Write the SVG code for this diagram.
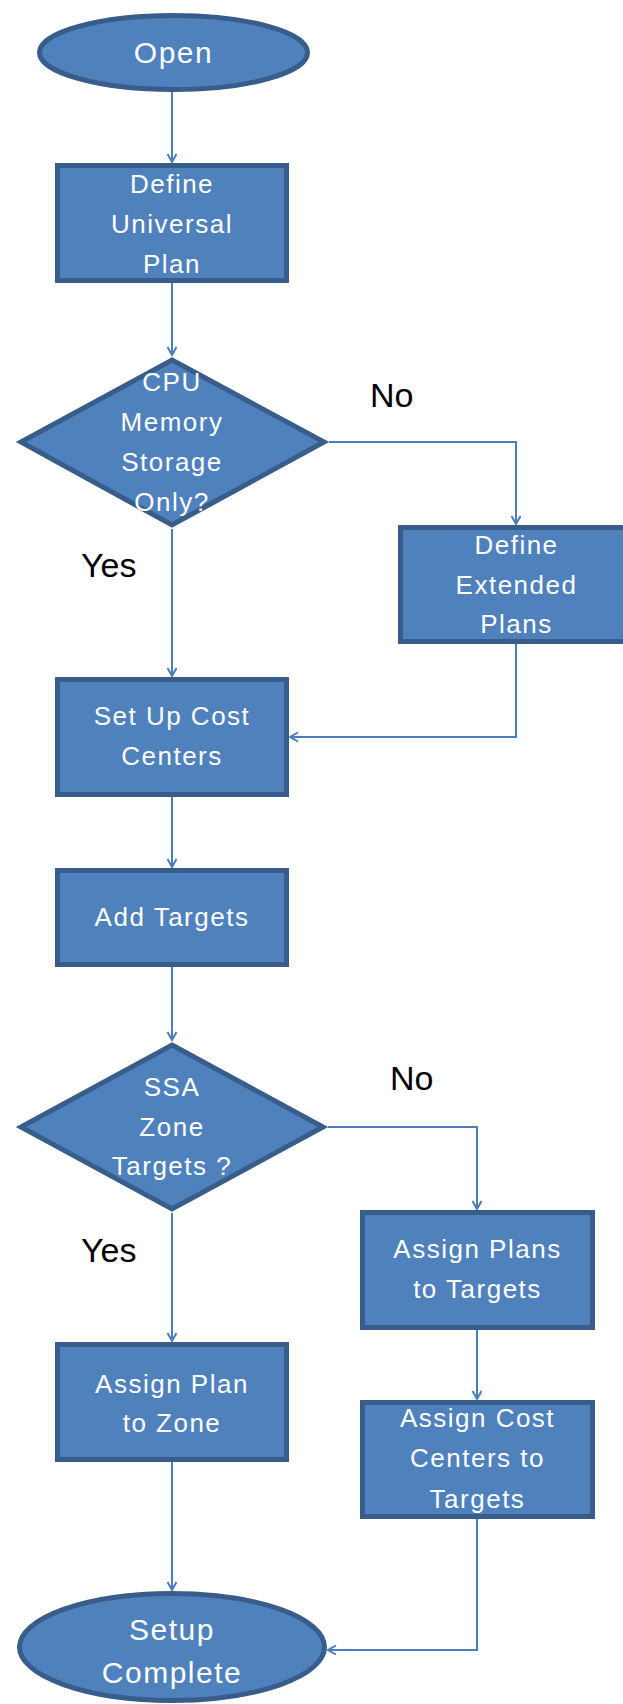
<svg xmlns="http://www.w3.org/2000/svg" width="623" height="1704" viewBox="0 0 623 1704">
<style>
.n{fill:#4f81bd;stroke:#385d8a;stroke-width:5}
.t{font-family:"Liberation Sans",Arial,sans-serif;font-size:26px;fill:#ffffff;text-anchor:middle;letter-spacing:1.5px}
.te{font-size:30px}
.lb{font-family:"Liberation Sans",Arial,sans-serif;font-size:34px;fill:#000000}
.c{fill:none;stroke:#4a7ebb;stroke-width:2;marker-end:url(#ah)}
</style>
<defs>
<marker id="ah" markerUnits="userSpaceOnUse" markerWidth="12" markerHeight="12" refX="9" refY="5" orient="auto">
<path d="M1,0.5 L9,5 L1,9.5" fill="none" stroke="#4a7ebb" stroke-width="2"/>
</marker>
</defs>
<rect width="623" height="1704" fill="#ffffff"/>
<g id="connectors">
<path class="c" d="M172,92 L172,162"/>
<path class="c" d="M172,283 L172,355"/>
<path class="c" d="M329,442 L516,442 L516,524"/>
<path class="c" d="M172,529 L172,676"/>
<path class="c" d="M516,644 L516,737 L290,737"/>
<path class="c" d="M172,797 L172,867"/>
<path class="c" d="M172,967 L172,1040"/>
<path class="c" d="M328,1127 L477,1127 L477,1209"/>
<path class="c" d="M172,1213 L172,1341"/>
<path class="c" d="M477,1330 L477,1399"/>
<path class="c" d="M172,1462 L172,1590"/>
<path class="c" d="M477,1519 L477,1650 L328,1650"/>
</g>
<g id="open">
<ellipse class="n" cx="173.5" cy="52.5" rx="134" ry="37"/>
<text class="t te" x="173.5" y="63">Open</text>
</g>
<g id="define-universal">
<rect class="n" x="57.5" y="165.5" width="229" height="115"/>
<text class="t" x="172" y="193">Define</text>
<text class="t" x="172" y="233">Universal</text>
<text class="t" x="172" y="273">Plan</text>
</g>
<g id="decision-cpu">
<polygon class="n" points="172,360 324,442 172,525 21,442"/>
<text class="t" x="172" y="391">CPU</text>
<text class="t" x="172" y="431">Memory</text>
<text class="t" x="172" y="471">Storage</text>
<text class="t" x="172" y="511">Only?</text>
</g>
<g id="define-extended">
<rect class="n" x="400.5" y="527.5" width="232" height="114"/>
<text class="t" x="516.5" y="554">Define</text>
<text class="t" x="516.5" y="594">Extended</text>
<text class="t" x="516.5" y="633">Plans</text>
</g>
<g id="cost-centers">
<rect class="n" x="57.5" y="679.5" width="229" height="115"/>
<text class="t" x="172" y="725">Set Up Cost</text>
<text class="t" x="172" y="765">Centers</text>
</g>
<g id="add-targets">
<rect class="n" x="57.5" y="870.5" width="229" height="94"/>
<text class="t" x="172" y="926">Add Targets</text>
</g>
<g id="decision-ssa">
<polygon class="n" points="172,1045 323,1127 172,1209 21,1127"/>
<text class="t" x="172" y="1096">SSA</text>
<text class="t" x="172" y="1136">Zone</text>
<text class="t" x="172" y="1175">Targets ?</text>
</g>
<g id="assign-plans">
<rect class="n" x="362.5" y="1212.5" width="230" height="115"/>
<text class="t" x="477.5" y="1258">Assign Plans</text>
<text class="t" x="477.5" y="1298">to Targets</text>
</g>
<g id="assign-plan-zone">
<rect class="n" x="57.5" y="1344.5" width="229" height="115"/>
<text class="t" x="172" y="1393">Assign Plan</text>
<text class="t" x="172" y="1432">to Zone</text>
</g>
<g id="assign-cost-centers">
<rect class="n" x="362.5" y="1402.5" width="230" height="114"/>
<text class="t" x="477.5" y="1427">Assign Cost</text>
<text class="t" x="477.5" y="1467">Centers to</text>
<text class="t" x="477.5" y="1508">Targets</text>
</g>
<g id="setup-complete">
<ellipse class="n" cx="172" cy="1647" rx="152.5" ry="53.5"/>
<text class="t te" x="172" y="1640">Setup</text>
<text class="t te" x="172" y="1683">Complete</text>
</g>
<g id="labels">
<text class="lb" x="370" y="407">No</text>
<text class="lb" x="81" y="577">Yes</text>
<text class="lb" x="390" y="1090">No</text>
<text class="lb" x="81" y="1262">Yes</text>
</g>
</svg>
